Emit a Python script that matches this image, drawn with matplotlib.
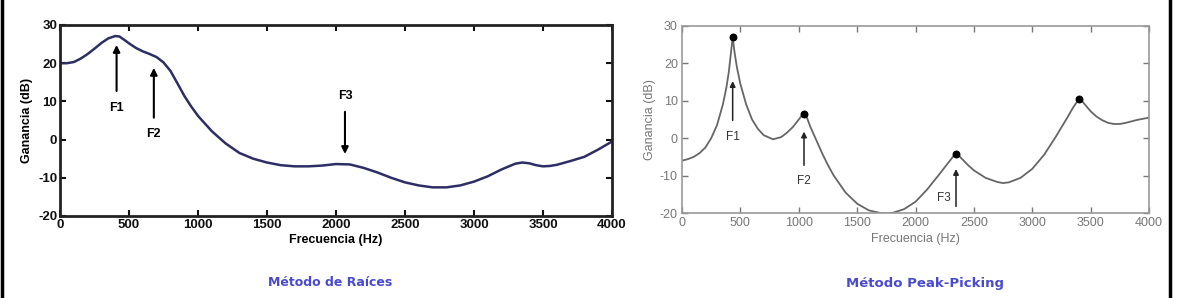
import matplotlib.pyplot as plt
from matplotlib.lines import Line2D

# Metodo de raices (envolvente LPC)
raices_f = [0, 50, 100, 150, 200, 250, 300, 350, 400, 430, 470, 500, 550, 600, 650,
            700, 750, 800, 850, 900, 950, 1000, 1100, 1200, 1300, 1400, 1500, 1600,
            1700, 1800, 1900, 2000, 2100, 2200, 2300, 2400, 2500, 2600, 2700, 2800,
            2900, 3000, 3100, 3200, 3300, 3350, 3400, 3450, 3500, 3550, 3600, 3700,
            3800, 3900, 4000]
raices_db = [20, 20, 20.3, 21.2, 22.4, 23.8, 25.3, 26.5, 27.1, 27, 26, 25.2, 24, 23.1, 22.4,
             21.6, 20.2, 18, 14.8, 11.5, 8.7, 6.2, 2.2, -1, -3.5, -5, -6, -6.7,
             -7, -7, -6.8, -6.4, -6.5, -7.4, -8.6, -10, -11.2, -12, -12.5, -12.5,
             -12, -11, -9.6, -7.8, -6.3, -6, -6.2, -6.7, -7, -6.9, -6.6, -5.6,
             -4.5, -2.6, -0.5]
raices_formantes = ['F1', 'F2', 'F3']
raices_pos = [410, 680, 2065]

# Metodo peak-picking
peak_f = [0, 50, 100, 150, 200, 250, 300, 350, 380, 400, 420, 434, 450, 470, 500,
          550, 600, 650, 700, 780, 850, 900, 950, 1000, 1030, 1045, 1070, 1100,
          1150, 1200, 1250, 1300, 1400, 1500, 1600, 1700, 1750, 1800, 1900, 2000,
          2100, 2200, 2250, 2300, 2330, 2347, 2370, 2400, 2450, 2500, 2600, 2700,
          2750, 2800, 2900, 3000, 3100, 3200, 3300, 3350, 3400, 3430, 3470, 3500,
          3550, 3600, 3650, 3700, 3750, 3800, 3900, 4000]
peak_db = [-6, -5.6, -5, -4, -2.5, 0, 3.5, 9, 13.5, 17.5, 23, 27, 23, 19, 14.5,
           9, 5, 2.5, 0.8, -0.3, 0.3, 1.5, 3, 5, 6.2, 6.5, 5.5, 3,
           -0.5, -4, -7.2, -10, -14.5, -17.5, -19.3, -20, -20.1, -20, -19, -17,
           -13.7, -9.8, -7.8, -5.8, -4.6, -4.2, -4.6, -5.6, -7.2, -8.6, -10.6, -11.7,
           -12, -11.8, -10.6, -8.2, -4.5, 0.3, 5.5, 8.2, 10.5, 9.8, 8.3, 7.2,
           5.8, 4.8, 4.1, 3.8, 3.8, 4.1, 4.9, 5.5]
picos_f = [434, 1045, 2347, 3400]
picos_db = [27, 6.5, -4.2, 10.5]

W, H = 1177, 298
plt.rcParams['font.family'] = ['Liberation Sans', 'DejaVu Sans']
plt.rcParams['axes.unicode_minus'] = False
fig = plt.figure(figsize=(W / 100, H / 100), dpi=100)


def box(x0, y0, x1, y1):
    return fig.add_axes([x0 / W, 1 - y1 / H, (x1 - x0) / W, (y1 - y0) / H])


ticks_x = [0, 500, 1000, 1500, 2000, 2500, 3000, 3500, 4000]
ticks_y = [-20, -10, 0, 10, 20, 30]

# --- izquierda
ax1 = box(60, 25, 612, 216)
ax1.plot(raices_f, raices_db, color='#2e2e66', lw=1.8)
ax1.set_xlim(0, 4000)
ax1.set_ylim(-20, 30)
ax1.set_xticks(ticks_x)
ax1.set_yticks(ticks_y)
ax1.tick_params(direction='in', top=True, right=True, length=4, width=1.5,
                labelsize=9.5, pad=2, colors='#111111')
for t in ax1.get_xticklabels() + ax1.get_yticklabels():
    t.set_fontweight('bold')
for s in ax1.spines.values():
    s.set_linewidth(2)
    s.set_color('#222222')
ax1.set_xlabel('Frecuencia (Hz)', fontsize=9, fontweight='bold', labelpad=2)
ax1.set_ylabel('Ganancia (dB)', fontsize=9, fontweight='bold', labelpad=4)

arr = dict(arrowstyle='-|>', color='black', lw=1.5, mutation_scale=10)
ax1.annotate('', xy=(raices_pos[0], 25.5), xytext=(raices_pos[0], 12), arrowprops=arr)
ax1.text(raices_pos[0], 8.3, raices_formantes[0], ha='center', va='center',
         fontsize=9, fontweight='bold')
ax1.annotate('', xy=(raices_pos[1], 19.5), xytext=(raices_pos[1], 5), arrowprops=arr)
ax1.text(raices_pos[1], 1.5, raices_formantes[1], ha='center', va='center',
         fontsize=9, fontweight='bold')
ax1.annotate('', xy=(raices_pos[2], -4.5), xytext=(raices_pos[2], 8), arrowprops=arr)
ax1.text(raices_pos[2], 11.5, raices_formantes[2], ha='center', va='center',
         fontsize=9, fontweight='bold')

# --- derecha
gris = '#777777'
ax2 = box(682, 26, 1149, 213)
ax2.plot(peak_f, peak_db, color='#666666', lw=1.3)
ax2.scatter(picos_f, picos_db, s=22, color='black', zorder=5)
ax2.set_xlim(0, 4000)
ax2.set_ylim(-20, 30)
ax2.set_xticks(ticks_x)
ax2.set_yticks(ticks_y)
ax2.tick_params(direction='in', top=True, right=True, length=4, width=1,
                labelsize=9, pad=3, colors=gris)
for s in ax2.spines.values():
    s.set_linewidth(1.2)
    s.set_color('#999999')
ax2.set_xlabel('Frecuencia (Hz)', fontsize=9, color=gris, labelpad=3)
ax2.set_ylabel('Ganancia (dB)', fontsize=9, color=gris, labelpad=3)

arr2 = dict(arrowstyle='-|>', color='#222222', lw=1.1, mutation_scale=8)
ax2.annotate('', xy=(picos_f[0], 16), xytext=(picos_f[0], 4), arrowprops=arr2)
ax2.text(picos_f[0], 0.3, 'F1', ha='center', va='center', fontsize=8.5, color='#333333')
ax2.annotate('', xy=(picos_f[1], 2.5), xytext=(picos_f[1], -8), arrowprops=arr2)
ax2.text(picos_f[1], -11.5, 'F2', ha='center', va='center', fontsize=8.5, color='#333333')
ax2.annotate('', xy=(picos_f[2], -7.5), xytext=(picos_f[2], -19), arrowprops=arr2)
ax2.text(picos_f[2] - 100, -16, 'F3', ha='center', va='center', fontsize=8.5, color='#333333')

# titulos
fig.text(330 / W, 1 - 283 / H, 'Método de Raíces', ha='center', va='center',
         fontsize=9, color='#4a4ad0', fontweight='bold', family=['DejaVu Sans'])
fig.text(925 / W, 1 - 283 / H, 'Método Peak-Picking', ha='center', va='center',
         fontsize=9.5, color='#4a4ad0', fontweight='bold', family=['DejaVu Sans'])

# marco lateral
fig.add_artist(Line2D([1.5 / W, 1.5 / W], [0, 1], color='black', lw=2.5,
                      transform=fig.transFigure))
fig.add_artist(Line2D([1170 / W, 1170 / W], [0, 1], color='black', lw=2.5,
                      transform=fig.transFigure))

fig.savefig('out.png', dpi=100)
